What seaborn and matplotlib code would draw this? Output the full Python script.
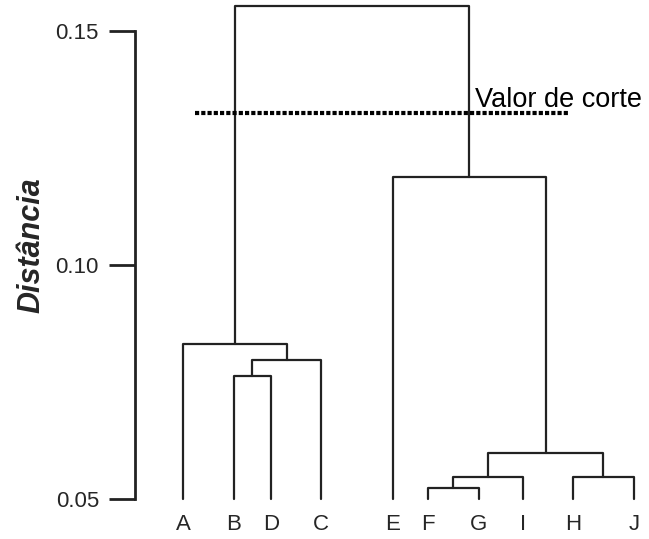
import matplotlib
matplotlib.use("Agg")
import matplotlib.pyplot as plt
import seaborn as sns

# DATA
leaves = ["A", "B", "D", "C", "E", "F", "G", "I", "H", "J"]
leaf_x = [1.0, 2.02, 2.76, 3.76, 5.2, 5.9, 6.92, 7.8, 8.8, 10.02]
leaf_h = 0.05
# merges: (left id, right id, distancia) -- ids 0..9 are leaves, then 10, 11, ...
merge_left = [1, 10, 0, 5, 13, 8, 14, 4, 12]
merge_right = [2, 3, 11, 6, 7, 9, 15, 16, 17]
merge_h = [0.0763, 0.0797, 0.0831, 0.0524, 0.0547, 0.0547, 0.0598, 0.1188, 0.1553]
cut_value = 0.1325
cut_from, cut_to = 1.24, 8.74
y_ticks = [0.05, 0.10, 0.15]
y_ticklabels = ["0.05", "0.10", "0.15"]

sns.set_theme(style="white")
plt.rcParams["font.family"] = ["Liberation Sans", "DejaVu Sans"]

fig = plt.figure(figsize=(6.49, 5.39), dpi=100)
ax = fig.add_axes([0.208, 0.0742, 0.792, 0.916])

LINE = "#222222"
pos = list(leaf_x)
hgt = [leaf_h] * len(leaf_x)
for l, r, h in zip(merge_left, merge_right, merge_h):
    xs = [pos[l], pos[l], pos[r], pos[r]]
    ys = [hgt[l], h, h, hgt[r]]
    sns.lineplot(x=xs, y=ys, sort=False, estimator=None, color=LINE,
                 lw=1.6, ax=ax, clip_on=False)
    pos.append((pos[l] + pos[r]) / 2)
    hgt.append(h)

# linha de corte
ax.plot([cut_from, cut_to], [cut_value, cut_value], color="black", lw=3,
        linestyle=(0, (1, 0.5)), solid_capstyle="butt", dash_capstyle="butt")
ax.text(6.84, 0.1338, "Valor de corte", fontsize=19.5, ha="left", va="baseline",
        color="black")

ax.set_xlim(0.04, 10.32)
ax.set_ylim(0.05, 0.1555)

for s in ["top", "right", "bottom"]:
    ax.spines[s].set_visible(False)
ax.spines["left"].set_bounds(0.05, 0.15)
ax.spines["left"].set_linewidth(2)
ax.spines["left"].set_color(LINE)

ax.set_yticks(y_ticks)
ax.set_yticklabels(y_ticklabels, fontsize=16)
ax.tick_params(axis="y", direction="out", length=19, width=2, color=LINE,
               pad=7, left=True)

ax.set_xticks(leaf_x)
ax.set_xticklabels(leaves, fontsize=16)
ax.tick_params(axis="x", length=0, pad=11)

ax.set_ylabel("Distância", fontsize=22, fontweight="bold", fontstyle="italic")
ax.yaxis.set_label_coords(-0.172, 0.514)
ax.grid(False)

plt.savefig("out.png", dpi=100)
